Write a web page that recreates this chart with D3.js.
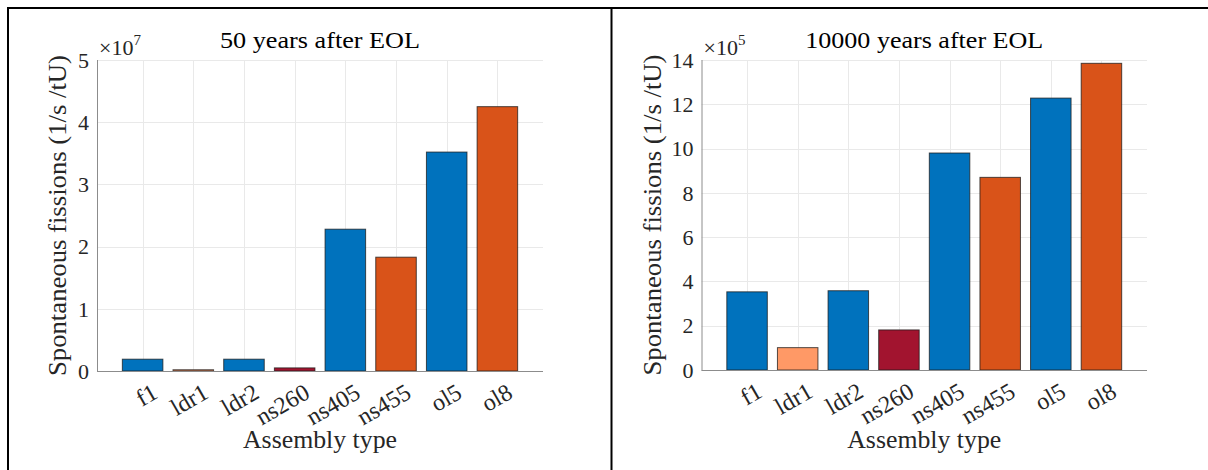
<!DOCTYPE html>
<html lang="en">
<head>
<meta charset="UTF-8">
<title>Spontaneous fissions after EOL</title>
<script src="https://d3js.org/d3.v7.min.js"></script>
<style>
    body { margin: 0; background: #fff; }
    .grid line { stroke: #e9e9e9; stroke-width: 1; }
</style>
</head>
<body>
<svg id="chart" width="1208" height="470"></svg>
<script>
    // data
    const assemblies = ["f1", "ldr1", "ldr2", "ns260", "ns405", "ns455", "ol5", "ol8"];
    const barColors = ["#0072BD", "#FF9966", "#0072BD", "#A2142F", "#0072BD", "#D95319", "#0072BD", "#D95319"];

    // 50 years, in units of 1e7
    const fissions50 = [0.19, 0.02, 0.19, 0.05, 2.28, 1.83, 3.52, 4.25];
    const ticks50 = [0, 1, 2, 3, 4, 5];

    // 10000 years, in units of 1e5
    const fissions10000 = [3.53, 1.01, 3.58, 1.81, 9.8, 8.7, 12.28, 13.85];
    const ticks10000 = [0, 2, 4, 6, 8, 10, 12, 14];

    const FONT = "Liberation Serif";
    const svg = d3.select("#chart");

    // table cell borders
    svg.append("line").attr("x1", 7).attr("x2", 1208).attr("y1", 8).attr("y2", 8)
        .attr("stroke", "#000").attr("stroke-width", 2);
    svg.append("line").attr("x1", 8).attr("x2", 8).attr("y1", 7).attr("y2", 470)
        .attr("stroke", "#000").attr("stroke-width", 2);
    svg.append("line").attr("x1", 611.5).attr("x2", 611.5).attr("y1", 7).attr("y2", 470)
        .attr("stroke", "#000").attr("stroke-width", 2);

    function txt(sel) {
        return sel.append("text").attr("font-family", FONT).attr("fill", "#262626");
    }

    function drawPanel(opts) {
        const x = d3.scaleLinear().domain([0.1, 8.9]).range([opts.left, opts.right]);
        const y = d3.scaleLinear().domain([0, opts.ymax]).range([opts.bottom, opts.top]);
        const g = svg.append("g");
        const step = x(2) - x(1);
        const barW = step * 0.8;

        // grid
        const grid = g.append("g").attr("class", "grid");
        grid.selectAll(".hg").data(opts.ticks.slice(1)).enter().append("line")
            .attr("x1", opts.left).attr("x2", opts.right)
            .attr("y1", d => Math.round(y(d)) + 0.5).attr("y2", d => Math.round(y(d)) + 0.5);
        grid.selectAll(".vg").data(assemblies).enter().append("line")
            .attr("x1", (d, i) => Math.round(x(i + 1)) + 0.5).attr("x2", (d, i) => Math.round(x(i + 1)) + 0.5)
            .attr("y1", opts.top).attr("y2", opts.bottom);

        // bars
        g.selectAll("rect").data(opts.values).enter().append("rect")
            .attr("x", (d, i) => x(i + 1) - barW / 2)
            .attr("width", barW)
            .attr("y", d => y(d))
            .attr("height", d => opts.bottom - y(d))
            .attr("fill", (d, i) => barColors[i])
            .attr("stroke", "#1a1a1a")
            .attr("stroke-opacity", 0.75)
            .attr("stroke-width", 1);

        // axes lines
        g.append("line").attr("x1", opts.left + 0.5).attr("x2", opts.left + 0.5)
            .attr("y1", opts.top).attr("y2", opts.bottom + 0.5)
            .attr("stroke", "#8c8c8c");
        g.append("line").attr("x1", opts.left).attr("x2", opts.right)
            .attr("y1", opts.bottom + 0.5).attr("y2", opts.bottom + 0.5)
            .attr("stroke", "#8c8c8c");

        // y tick labels
        opts.ticks.forEach(t => {
            txt(g).attr("x", opts.left - 8)
                .attr("y", y(t))
                .attr("dy", "0.35em")
                .attr("text-anchor", "end")
                .attr("font-size", 22)
                .text(t);
        });

        // exponent
        const ex = txt(g).attr("x", opts.left + 2).attr("y", opts.top - 5)
            .attr("font-size", 22);
        ex.append("tspan").text("\u00d710");
        ex.append("tspan").attr("dy", -10).attr("font-size", 15).text(opts.exp);

        // x tick labels
        assemblies.forEach((a, i) => {
            txt(g).attr("transform", `translate(${x(i + 1) + 8},${opts.bottom + 11}) rotate(-30)`)
                .attr("text-anchor", "end")
                .attr("dy", "0.72em")
                .attr("font-size", 24)
                .text(a);
        });

        const cx = (opts.left + opts.right) / 2;

        // title
        txt(g).attr("x", cx).attr("y", 48)
            .attr("text-anchor", "middle").attr("font-size", 24)
            .attr("fill", "#000")
            .attr("textLength", opts.titleLen).attr("lengthAdjust", "spacingAndGlyphs")
            .text(opts.title);

        // axis labels
        txt(g).attr("x", cx).attr("y", 448)
            .attr("text-anchor", "middle").attr("font-size", 25)
            .attr("textLength", 154).attr("lengthAdjust", "spacingAndGlyphs")
            .text("Assembly type");
        txt(g)
            .attr("transform", `translate(${opts.ylabX},${(opts.top + opts.bottom) / 2}) rotate(-90)`)
            .attr("text-anchor", "middle").attr("font-size", 25)
            .attr("textLength", 321).attr("lengthAdjust", "spacingAndGlyphs")
            .text("Spontaneous fissions (1/s /tU)");
    }

    drawPanel({
        left: 97, right: 543, top: 60, bottom: 371,
        ymax: 5, ticks: ticks50, values: fissions50, exp: "7",
        title: "50 years after EOL", titleLen: 200, ylabX: 66
    });

    drawPanel({
        left: 701.5, right: 1147, top: 60, bottom: 370,
        ymax: 14, ticks: ticks10000, values: fissions10000, exp: "5",
        title: "10000 years after EOL", titleLen: 238, ylabX: 661
    });
</script>
</body>
</html>
